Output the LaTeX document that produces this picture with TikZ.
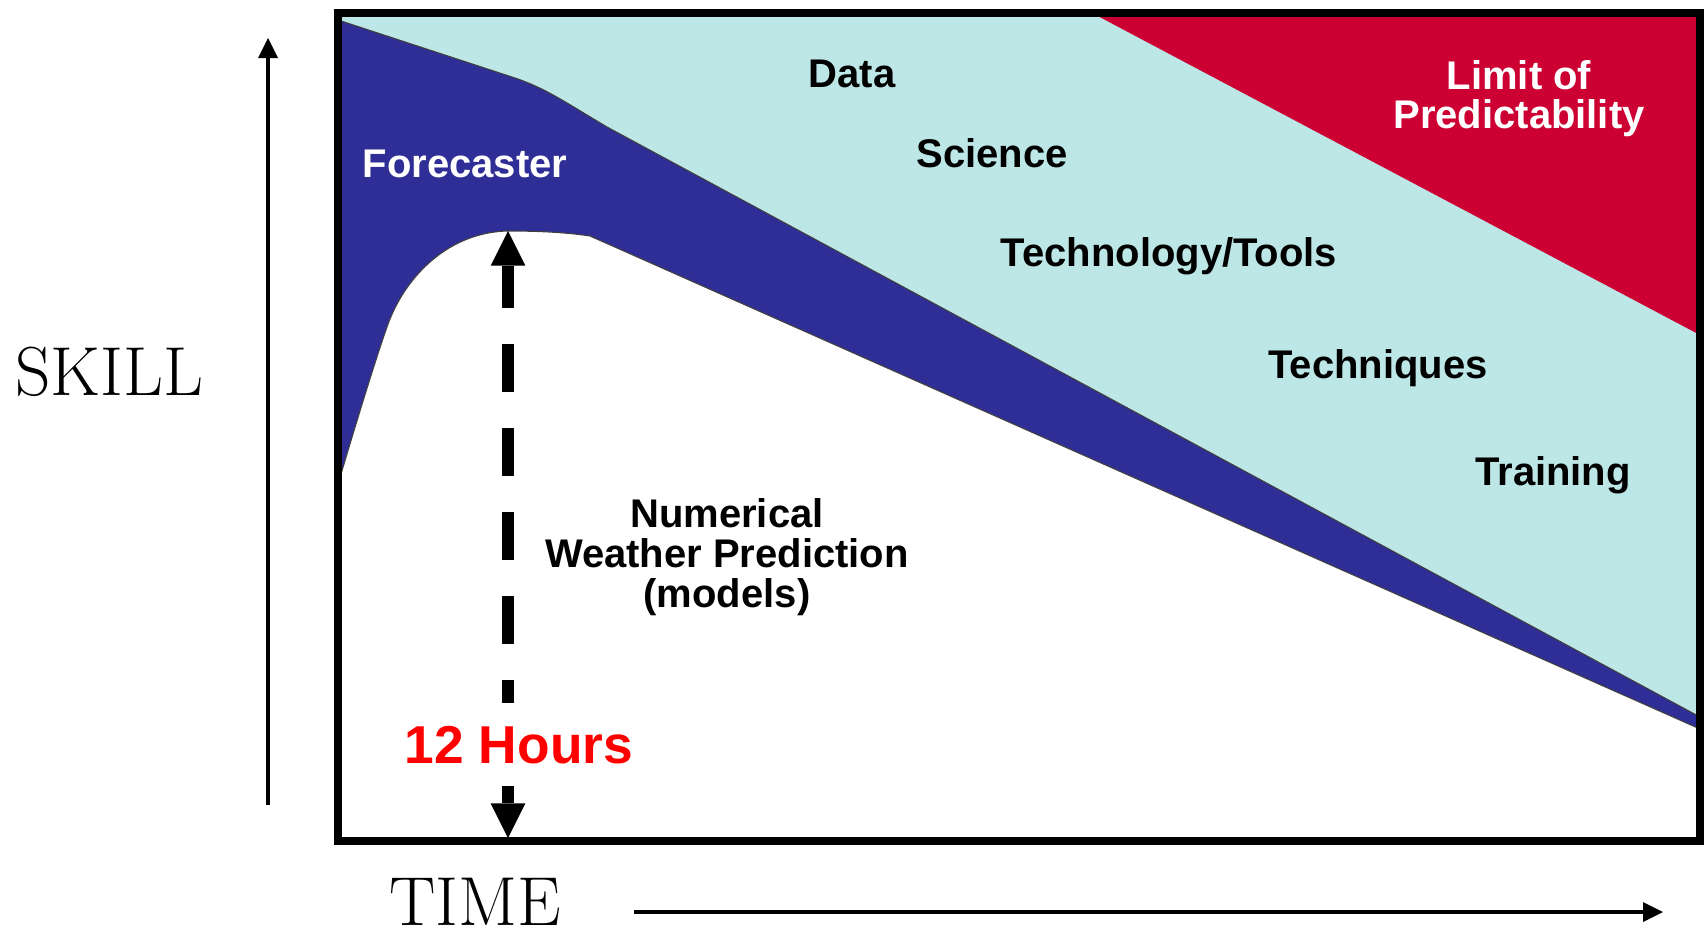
\documentclass[tikz,border=0pt]{standalone}
\usepackage{fontspec}
\setsansfont{Liberation Sans}
\usetikzlibrary{arrows.meta}
\definecolor{fcblue}{RGB}{46,46,150}
\definecolor{limred}{RGB}{204,0,51}
\definecolor{datacyan}{RGB}{189,230,230}
\begin{document}
\begin{tikzpicture}[x=0.75pt,y=0.75pt,yscale=-1,xscale=1,
  lbl/.style={font=\sffamily\bfseries\fontsize{30}{30}\selectfont, align=center, anchor=base, inner sep=0pt},
  hours/.style={font=\sffamily\bfseries\fontsize{40}{40}\selectfont, text=red, fill=white, anchor=base, inner xsep=16pt, inner ysep=17pt, text height=28pt, text depth=0pt},
  axislbl/.style={font=\fontsize{52}{54}\selectfont, anchor=base, inner sep=0pt, text depth=0pt},
  axisarrow/.style={line width=3.5pt, -{Triangle[length=15pt,width=15pt,line width=0pt]}}]
%set diagram area 1705 x 933
\path[use as bounding box, fill=white] (0,0) rectangle (1705,933);

%Shape: Rectangle [data area]
\fill[datacyan] (338,13) rectangle (1700,841);
%Shape: Forecaster band
\filldraw[fill=fcblue, draw=black!75, line width=0.8pt] (338,20) -- (515,78) .. controls (545,88) and (565,102) .. (607,127) -- (1700,717) -- (1700,841) -- (338,841) -- cycle;
%Shape: NWP area
\filldraw[fill=white, draw=black!75, line width=0.8pt] (336,491) .. controls (352,437) and (372,370) .. (387,327) .. controls (405,275) and (450,232) .. (508,231) .. controls (545,231) and (570,233) .. (590,236) -- (1700,729) -- (1700,841) -- (336,841) -- cycle;
%Shape: Triangle [limit]
\fill[limred] (1092,13) -- (1700,13) -- (1700,335) -- cycle;
%Shape: Rectangle [frame]
\draw[line width=5.5pt] (338,13) rectangle (1700,841);

%Arrow ends
\coordinate (peak) at (508,231);
\coordinate (floor) at (508,838);
\coordinate (skillfrom) at (268,805);
\coordinate (skillto) at (268,38);
\coordinate (timefrom) at (634,912);
\coordinate (timeto) at (1663,912);

%Straight Lines [12 hours]
\draw[line width=9pt, dash pattern=on 36pt off 27pt, dash phase=4.5pt, {Triangle[length=26pt,width=26pt,line width=0pt]}-{Triangle[length=26pt,width=26pt,line width=0pt]}] (peak) -- (floor);
%Straight Lines [axes]
\draw[axisarrow] (skillfrom) -- (skillto);
\draw[axisarrow] (timefrom) -- (timeto);

% Text Node
\draw (852,87) node [lbl] (data) {Data};
% Text Node
\draw (992,167) node [lbl] (science) {Science};
% Text Node
\draw (1169,266) node [lbl] (tools) {Technology/Tools};
% Text Node
\draw (1378,378) node [lbl] (techniques) {Techniques};
% Text Node
\draw (1553,485) node [lbl] (training) {Training};
% Text Node
\draw (465,177) node [lbl, text=white] (forecaster) {Forecaster};
% Text Node
\draw (1519,128) node [lbl, text=white, font=\sffamily\bfseries\fontsize{30}{29}\selectfont] (limit) {Limit of\\Predictability};
% Text Node
\draw (727,607) node [lbl] (nwp) {Numerical\\Weather Prediction\\(models)};
% Text Node
\draw (519,763) node [hours] (twelve) {12 Hours};
% Text Node
\draw (109,395) node [axislbl] (skill) {SKILL};
% Text Node
\draw (475,925) node [axislbl] (time) {TIME};
\end{tikzpicture}
\end{document}
